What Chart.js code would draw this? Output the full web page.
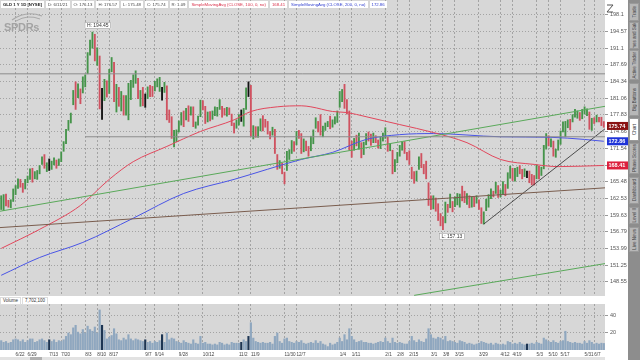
<!DOCTYPE html>
<html><head><meta charset="utf-8">
<script src="https://cdn.jsdelivr.net/npm/chart.js@4.4.1/dist/chart.umd.min.js"></script>
<style>
body{margin:0;width:640px;height:360px;overflow:hidden;background:#fff;font-family:'Liberation Sans',Arial,sans-serif;position:relative}
#hdr{position:absolute;left:1px;top:1px;display:flex;gap:2px;z-index:5}
#hdr span{display:block;height:7px;line-height:7px;font-size:4.3px;background:#fff;padding:0 2px;white-space:nowrap;color:#333}
.tabs{position:absolute;left:628px;top:0;width:12px;height:360px;background:#8d8d8d}
.tab{position:absolute;left:1px;width:10px;background:#b7b7b7;border:1px solid #9a9a9a;box-sizing:border-box;display:flex;align-items:center;justify-content:center;overflow:hidden}
.tab span{writing-mode:vertical-rl;transform:rotate(180deg);font-size:4.5px;color:#444;white-space:nowrap}
</style></head>
<body>
<div id="hdr"></div>
<div style="position:absolute;left:4px;top:10px;color:#a3a3a3;z-index:4">
<svg width="42" height="12" style="display:block"><path d="M8 10 Q22 0 38 6" stroke="#a8a8a8" fill="none" stroke-width="1.2"/><path d="M12 11 Q24 4 36 9" stroke="#a8a8a8" fill="none" stroke-width="1"/></svg>
<div style="font:bold 11px 'Liberation Sans',Arial;margin-top:-1px;letter-spacing:-0.3px">SPDRs</div></div>
<svg style="position:absolute;left:605px;top:2px" width="10" height="12"><path d="M2 3 L8 3 L2 10 L8 10" stroke="#555" fill="none" stroke-width="1"/></svg>
<canvas id="c1" width="628" height="296" style="position:absolute;left:0;top:0"></canvas>
<div style="position:absolute;left:0;top:297px;display:flex;gap:1px;z-index:5">
<span style="font-size:4.5px;line-height:6px;height:6px;padding:0 2px;border:1px solid #ddd;background:#fff;color:#333">Volume</span>
<span id="volLbl" style="font-size:4.5px;line-height:6px;height:6px;padding:0 2px;border:1px solid #ddd;background:#fff;color:#333"></span></div>
<canvas id="c2" width="628" height="62" style="position:absolute;left:0;top:298px"></canvas>
<div style="position:absolute;left:0;top:357px;width:605px;height:3px;background:#e2e2e2"><div style="position:absolute;left:30px;width:12px;height:3px;background:#b0b0b0"></div></div>
<div class="tabs" id="tabs"></div>
<script>
// ---------- categories ----------
const dates = [
'6/12/20','6/15/20','6/16/20','6/17/20','6/18/20','6/19/20','6/22/20','6/23/20','6/24/20','6/25/20','6/26/20','6/29/20','6/30/20',
'7/1/20','7/2/20','7/6/20','7/7/20','7/8/20','7/9/20','7/10/20','7/13/20','7/14/20','7/15/20','7/16/20','7/17/20','7/20/20','7/21/20','7/22/20','7/23/20','7/24/20','7/27/20','7/28/20','7/29/20','7/30/20','7/31/20',
'8/3/20','8/4/20','8/5/20','8/6/20','8/7/20','8/10/20','8/11/20','8/12/20','8/13/20','8/14/20','8/17/20','8/18/20','8/19/20','8/20/20','8/21/20','8/24/20','8/25/20','8/26/20','8/27/20','8/28/20','8/31/20',
'9/1/20','9/2/20','9/3/20','9/4/20','9/8/20','9/9/20','9/10/20','9/11/20','9/14/20','9/15/20','9/16/20','9/17/20','9/18/20','9/21/20','9/22/20','9/23/20','9/24/20','9/25/20','9/28/20','9/29/20','9/30/20',
'10/1/20','10/2/20','10/5/20','10/6/20','10/7/20','10/8/20','10/9/20','10/12/20','10/13/20','10/14/20','10/15/20','10/16/20','10/19/20','10/20/20','10/21/20','10/22/20','10/23/20','10/26/20','10/27/20','10/28/20','10/29/20','10/30/20',
'11/2/20','11/3/20','11/4/20','11/5/20','11/6/20','11/9/20','11/10/20','11/11/20','11/12/20','11/13/20','11/16/20','11/17/20','11/18/20','11/19/20','11/20/20','11/23/20','11/24/20','11/25/20','11/27/20','11/30/20',
'12/1/20','12/2/20','12/3/20','12/4/20','12/7/20','12/8/20','12/9/20','12/10/20','12/11/20','12/14/20','12/15/20','12/16/20','12/17/20','12/18/20','12/21/20','12/22/20','12/23/20','12/24/20','12/28/20','12/29/20','12/30/20','12/31/20',
'1/4/21','1/5/21','1/6/21','1/7/21','1/8/21','1/11/21','1/12/21','1/13/21','1/14/21','1/15/21','1/19/21','1/20/21','1/21/21','1/22/21','1/25/21','1/26/21','1/27/21','1/28/21','1/29/21',
'2/1/21','2/2/21','2/3/21','2/4/21','2/5/21','2/8/21','2/9/21','2/10/21','2/11/21','2/12/21','2/16/21','2/17/21','2/18/21','2/19/21','2/22/21','2/23/21','2/24/21','2/25/21','2/26/21',
'3/1/21','3/2/21','3/3/21','3/4/21','3/5/21','3/8/21','3/9/21','3/10/21','3/11/21','3/12/21','3/15/21','3/16/21','3/17/21','3/18/21','3/19/21','3/22/21','3/23/21','3/24/21','3/25/21','3/26/21','3/29/21','3/30/21','3/31/21',
'4/1/21','4/5/21','4/6/21','4/7/21','4/8/21','4/9/21','4/12/21','4/13/21','4/14/21','4/15/21','4/16/21','4/19/21','4/20/21','4/21/21','4/22/21','4/23/21','4/26/21','4/27/21','4/28/21','4/29/21','4/30/21',
'5/3/21','5/4/21','5/5/21','5/6/21','5/7/21','5/10/21','5/11/21','5/12/21','5/13/21','5/14/21','5/17/21','5/18/21','5/19/21','5/20/21','5/21/21','5/24/21','5/25/21','5/26/21','5/27/21','5/28/21',
'6/1/21','6/2/21','6/3/21','6/4/21','6/7/21','6/8/21','6/9/21','6/10/21','6/11/21'
];
// ---------- series ----------
const close = [
162.2,162.5,162.0,161.6,161.9,163.3,164.4,165.3,165.1,164.6,165.6,166.1,167.4,
166.6,166.6,167.1,168.2,169.6,168.3,168.3,168.5,169.0,169.2,168.6,169.1,170.6,172.3,174.9,176.1,177.5,182.0,181.8,183.5,181.4,184.4,
185.1,189.9,191.3,193.9,190.0,190.2,180.4,180.1,183.8,182.5,186.4,188.3,181.3,182.4,180.7,181.0,178.8,180.5,180.5,184.2,184.2,
185.2,181.6,181.6,181.5,180.8,182.7,182.6,182.4,183.8,184.0,184.0,182.4,183.6,178.2,177.6,174.0,174.2,174.5,176.2,177.9,177.1,
178.7,178.2,178.8,176.0,176.1,177.3,180.2,179.6,176.7,178.2,177.6,177.9,178.5,179.0,180.3,178.6,178.3,178.9,178.3,176.4,175.6,176.3,
177.0,178.3,178.5,182.7,182.3,174.5,175.0,174.0,175.2,176.8,176.3,176.2,175.5,174.0,175.0,171.2,168.4,169.0,167.4,166.7,
170.8,170.8,172.5,171.9,174.5,174.2,171.8,172.5,172.0,171.1,173.5,174.8,176.7,175.5,175.0,175.4,176.0,176.2,175.8,176.2,177.2,178.4,
181.1,182.3,181.0,179.0,172.4,171.3,173.0,172.8,173.4,170.6,172.2,174.1,174.0,173.0,173.2,173.1,172.1,173.5,173.8,
174.1,171.6,171.8,167.2,169.2,170.0,171.8,172.0,171.2,170.3,169.3,166.5,166.4,166.6,169.4,168.5,167.8,166.6,161.6,
161.1,162.6,161.2,159.5,159.0,157.4,161.5,160.8,162.4,161.5,162.3,162.4,163.1,163.0,162.5,162.9,161.5,162.4,162.1,162.7,160.9,158.8,160.0,
161.9,162.6,163.6,163.3,164.9,163.4,163.8,164.9,163.5,166.8,167.6,166.2,167.3,167.6,167.1,167.0,167.0,166.8,166.0,165.9,165.7,
168.0,166.7,167.6,171.9,172.9,172.4,172.8,170.5,170.7,172.5,174.4,175.5,175.9,176.7,175.8,177.7,177.7,178.1,177.6,178.4,
178.4,178.8,175.4,176.9,176.6,177.6,176.9,176.3,175.74
];
const high = [
163.0,163.2,163.3,162.2,162.3,164.2,164.8,166.0,165.9,165.2,165.9,166.5,167.8,
167.9,167.3,167.5,168.4,170.0,170.4,168.9,169.6,169.2,169.8,169.4,169.6,170.9,172.8,175.1,176.8,178.2,182.6,184.3,183.9,182.9,185.3,
185.7,190.2,192.8,194.45,194.0,191.2,189.5,183.0,184.8,184.5,186.8,189.2,188.2,183.8,183.2,182.4,181.6,181.6,184.0,184.6,185.7,
186.5,185.0,182.6,183.2,181.9,183.3,183.6,183.4,184.4,184.9,185.2,183.2,184.2,183.5,178.8,177.5,174.9,175.0,176.7,178.3,178.6,
179.1,179.6,179.4,179.4,176.5,177.6,180.7,180.6,179.5,178.4,178.5,178.6,179.4,179.3,180.8,179.5,179.1,179.3,179.2,178.0,176.3,176.9,
177.9,178.8,179.1,183.1,184.3,183.6,175.8,175.6,175.6,177.1,177.7,177.0,176.6,174.7,175.5,175.1,170.4,169.3,168.8,167.2,
171.0,171.3,173.0,172.8,174.7,174.9,174.3,173.3,172.9,171.9,173.8,175.0,177.3,176.6,177.9,175.7,176.3,176.6,177.6,176.9,177.5,178.6,
182.4,182.8,183.8,180.8,178.6,172.9,173.4,174.0,174.4,172.6,172.7,174.3,174.6,174.2,174.4,173.9,173.1,173.7,174.4,
175.4,173.6,172.4,171.2,169.5,170.8,172.1,172.7,172.8,170.8,171.1,168.1,167.3,167.4,170.0,170.6,168.6,169.2,165.3,
163.0,163.0,162.6,161.6,159.9,159.4,161.9,161.5,163.3,162.0,162.8,163.4,163.3,164.7,163.8,163.4,163.0,162.8,162.8,163.0,162.3,160.9,160.2,
162.4,163.2,164.2,163.8,165.4,164.8,164.0,165.5,165.0,167.1,168.3,167.9,167.9,168.1,168.4,167.7,167.8,167.4,167.4,166.8,166.6,
168.5,168.3,168.1,172.1,174.3,173.9,173.3,172.9,171.4,173.1,174.8,176.5,176.6,176.9,177.0,177.9,178.9,178.6,178.3,178.9,
179.4,179.0,178.4,177.2,177.3,177.8,177.4,177.4,176.57
];
const low = [
160.6,160.4,161.2,161.0,160.9,162.0,163.2,164.3,164.5,163.6,164.2,165.3,165.9,
165.4,166.0,165.9,166.9,168.6,167.9,167.3,167.5,167.7,168.5,167.9,168.4,169.1,171.0,172.4,174.9,176.3,179.8,178.9,181.2,180.0,182.1,
183.3,185.9,189.7,191.1,188.5,187.6,179.0,177.0,180.6,181.3,182.0,186.3,180.4,178.4,179.5,178.6,177.8,177.8,176.9,180.8,183.2,
184.0,181.0,179.5,179.6,179.3,181.0,181.4,181.4,182.5,183.3,182.4,180.7,182.2,176.9,176.4,173.4,171.8,172.8,174.6,175.9,175.6,
176.9,176.6,177.8,175.6,175.3,175.9,177.5,178.8,176.2,176.5,176.7,177.0,177.7,177.6,178.9,177.4,177.8,177.6,177.9,175.8,174.4,175.3,
175.9,176.6,175.7,178.9,181.4,173.8,173.3,173.6,173.6,174.8,174.8,175.5,174.2,173.3,174.0,170.6,167.7,167.9,166.9,165.1,
167.5,169.5,170.6,171.0,172.2,173.4,170.6,170.9,171.1,170.1,171.1,172.4,175.3,174.6,174.0,173.7,174.9,175.6,175.2,175.5,176.1,176.4,
179.3,180.4,179.1,178.0,171.2,169.9,171.2,172.0,171.4,169.8,170.4,172.2,172.9,172.1,172.6,172.6,171.6,171.5,172.9,
173.4,171.0,171.1,166.9,167.3,168.9,170.1,171.2,170.6,169.4,168.6,166.0,165.2,165.6,167.7,168.0,166.9,166.0,161.3,
160.6,160.7,160.3,158.7,157.8,157.13,158.3,160.1,160.9,160.2,161.1,161.4,161.0,162.1,161.8,161.5,160.9,161.0,161.1,161.7,160.6,158.2,158.1,
160.4,161.0,162.5,162.8,163.4,162.7,162.8,163.3,163.0,164.3,166.1,165.7,165.6,166.4,166.9,166.0,166.4,166.2,165.3,164.9,164.9,
166.0,166.0,166.6,167.8,171.4,172.0,171.8,170.1,169.9,171.2,172.3,174.6,173.7,175.4,175.0,176.5,177.4,177.2,176.8,177.1,
178.0,177.7,175.1,174.9,176.2,176.5,176.5,175.8,175.48
];
// volume in millions of shares
const volume = [
11,9,10,8,9,12,13,12,10,12,9,11,13,
13,9,10,12,13,11,9,12,10,12,9,11,10,12,16,20,18,26,29,21,19,24,
20,28,24,22,27,20,47,29,23,13,15,17,25,19,12,11,14,12,18,13,11,
13,12,11,10,12,9,10,8,10,9,11,18,9,20,12,14,13,10,9,8,11,
9,8,7,12,8,7,16,8,9,7,7,6,7,6,9,8,6,7,6,9,8,8,
8,9,12,10,16,32,14,10,9,8,9,8,8,9,7,16,20,10,8,13,
14,10,9,8,10,9,11,8,7,8,9,8,11,8,10,7,6,4,8,6,7,9,
14,10,18,12,25,16,12,9,10,11,9,9,8,8,7,8,9,10,9,
14,10,8,14,9,8,9,8,7,7,10,16,11,9,12,10,9,13,25,
18,14,13,15,14,12,16,10,11,10,9,8,11,10,9,7,8,7,6,7,8,10,9,
8,7,8,6,8,7,6,7,6,10,9,7,8,7,9,7,6,7,7,8,7,
9,8,7,14,12,10,9,11,9,8,10,11,22,10,9,8,9,8,8,7,
10,8,11,9,7,8,7,8,7.7021
];
const markedBars = [20,42,60,67,100,103,219];
// moving averages (day index, value)
const sma100Idx = [0,16,33,45,55,69,83,97,104,115,125,129,138,144,152,166,180,194,208,222,232,251];
const sma100    = [154.0,157.2,161.3,165.9,169.1,171.9,174.7,176.9,178.5,179.4,179.6,179.4,178.5,178.3,177.5,176.0,174.5,172.6,169.5,168.6,168.2,168.41];
const sma200Idx = [0,16,34,55,76,97,125,138,152,166,180,208,229,243,251];
const sma200    = [149.6,152.5,155.0,159.1,163.4,165.9,169.5,170.8,173.2,174.1,174.3,173.7,173.6,173.2,172.86];
// drawn trend lines: [startIndex, startPrice, endIndex, endPrice]
const resistanceLine = [-0.5,185.9,251.5,185.9];
const supportLine    = [35,173.7,251.5,173.7];
const channelTop     = [-0.5,160.3,251.5,179.5];
const channelBottom  = [172,146.4,251.5,151.5];
const longTrendLine  = [-0.5,157.5,251.5,164.4];
const riseTrendLine  = [201,158.1,251.5,175.2];
// ---------- ticks ----------
const yTicks = [198.1,194.57,191.1,187.69,184.34,181.06,177.83,174.66,171.54,168.48,165.48,162.53,159.63,156.79,153.99,151.25,148.55];
const volTicks = [20,40];
const tickLabels = ['6/22','6/29','7/13','7/20','8/3','8/10','8/17','9/7','9/14','9/28','10/12','11/2','11/9','11/30','12/7','1/4','1/11','2/1','2/8','2/15','3/1','3/8','3/15','3/29','4/12','4/19','5/3','5/10','5/17','5/31','6/7'];

// ---------- header ----------
const last = close.length - 1;
const hdrItems = [
 ['GLD 1 Y 1D [NYSE]','#222',true],['D: 6/11/21','#444'],['O: 176.13','#444'],
 ['H: '+high[last].toFixed(2),'#444'],['L: '+low[last].toFixed(2),'#444'],['C: '+close[last].toFixed(2),'#444'],
 ['R: '+(high[last]-low[last]).toFixed(2),'#444'],
 ['SimpleMovingAvg (CLOSE, 100, 0, no)','#d9304a'],[sma100[sma100.length-1].toFixed(2),'#d9304a'],
 ['SimpleMovingAvg (CLOSE, 200, 0, no)','#3340d0'],[sma200[sma200.length-1].toFixed(2),'#3340d0']
];
const hdr = document.getElementById('hdr');
hdrItems.forEach(([t,c,b])=>{const s=document.createElement('span');s.textContent=t;s.style.color=c;if(b)s.style.fontWeight='bold';hdr.appendChild(s);});
document.getElementById('volLbl').textContent = Math.round(volume[last]*1e6).toLocaleString('en-US');

const tabsDef = [['Trade',3,18],['Times and Sales',22,27],['Active Trader',50,30],['Big Buttons',83,33],['Chart',118,23],['Phase Scores',143,31],['Dashboard',177,27],['Level II',207,17],['Live News',227,25]];
const tabs = document.getElementById('tabs');
tabsDef.forEach(([t,top,h])=>{const d=document.createElement('div');d.className='tab';d.style.top=top+'px';d.style.height=h+'px';if(t==='Chart'){d.style.background='#fff';}d.innerHTML='<span>'+t+'</span>';tabs.appendChild(d);});

// ---------- week ticks ----------
function parseD(s){const [m,d,y]=s.split('/').map(Number);return new Date(2000+y,m-1,d);}
const weekTicks = [];
let prevMon = null;
dates.forEach((s,i)=>{
  const d = parseD(s); const mon = new Date(d); mon.setDate(d.getDate()-((d.getDay()+6)%7));
  const t = mon.getTime();
  if (t!==prevMon){ const lab=(mon.getMonth()+1)+'/'+mon.getDate(); if(tickLabels.includes(lab)) weekTicks.push({value:i,label:lab}); prevMon=t; }
});
const tickLabelAt = v => { const w = weekTicks.find(t=>t.value===v); return w?w.label:''; };

const gridColor = 'rgba(120,120,120,0.55)';
const bgPlugin = {id:'bg', beforeDraw(ch){const {ctx,chartArea:a}=ch;ctx.save();ctx.fillStyle='#d7d7d7';ctx.fillRect(a.left,a.top,a.right-a.left,a.bottom-a.top);ctx.restore();}};

const upColor='#45944a', downColor='#cf5260', markColor='#111';
const barColors = close.map((c,i)=> markedBars.includes(i)?markColor:(i>0&&c<close[i-1]?downColor:upColor));
const seg = (a)=>[{x:a[0],y:a[1]},{x:a[2],y:a[3]}];
const lineDs = (data,color,w,extra)=>Object.assign({type:'line',data,borderColor:color,borderWidth:w||1,pointRadius:0,fill:false,order:0},extra||{});

const labelPlugin = {id:'labels', afterDraw(ch){
  const {ctx,chartArea:a,scales:{x,y}}=ch; ctx.save();
  ctx.font='bold 5.5px "Liberation Sans", Arial';
  ctx.textBaseline='middle';
  [[close[last],'#8a1212'],[sma200[sma200.length-1],'#1e33d8'],[sma100[sma100.length-1],'#dc1f3d']].forEach(([v,bg])=>{
    const py=y.getPixelForValue(v); ctx.fillStyle=bg; ctx.fillRect(a.right+2,py-4,21,8);
    ctx.fillStyle='#fff'; ctx.textAlign='left'; ctx.fillText(v.toFixed(2),a.right+3.5,py+0.5);
  });
  // high / low annotations
  ctx.font='5px "Liberation Sans", Arial';
  let hi=0,lo=0; high.forEach((v,i)=>{if(v>high[hi])hi=i;}); low.forEach((v,i)=>{if(v<low[lo])lo=i;});
  const box=(txt,px,py)=>{const w=ctx.measureText(txt).width+5;ctx.fillStyle='#fff';ctx.fillRect(px,py,w,7);ctx.strokeStyle='#999';ctx.lineWidth=0.6;ctx.strokeRect(px+0.5,py+0.5,w-1,6);ctx.fillStyle='#333';ctx.textAlign='left';ctx.fillText(txt,px+2.5,py+3.7);};
  box('H: '+high[hi].toFixed(2), x.getPixelForValue(hi)-8, y.getPixelForValue(high[hi])-10);
  box('L: '+low[lo].toFixed(2), x.getPixelForValue(lo)-4, y.getPixelForValue(low[lo])+3);
  ctx.restore();
}};

const xCommon = {type:'linear',min:-0.5,max:dates.length-0.5,offset:false,
  afterBuildTicks:s=>{s.ticks=weekTicks.map(t=>({value:t.value}));},
  grid:{color:gridColor,drawTicks:false,offset:false,lineWidth:1},border:{display:false,dash:[2,2]}};

new Chart(document.getElementById('c1'),{
  type:'bar',
  data:{datasets:[
    {type:'bar',data:dates.map((d,i)=>({x:i,y:[low[i],high[i]]})),backgroundColor:barColors,barThickness:1.2,grouped:false,order:5},
    lineDs(seg(resistanceLine),'#8c8c8c',1),
    lineDs(seg(supportLine),'#8c8c8c',1),
    lineDs(seg(channelTop),'#5aa95a',1),
    lineDs(seg(channelBottom),'#5aa95a',1),
    lineDs(seg(longTrendLine),'#7a5d4e',1),
    lineDs(seg(riseTrendLine),'#2a2a2a',0.8),
    lineDs(sma100Idx.map((v,j)=>({x:v,y:sma100[j]})),'#e2475c',1,{cubicInterpolationMode:'monotone'}),
    lineDs(sma200Idx.map((v,j)=>({x:v,y:sma200[j]})),'#4a55e6',1,{cubicInterpolationMode:'monotone'})
  ]},
  options:{responsive:false,animation:false,events:[],layout:{padding:0},
    plugins:{legend:{display:false},tooltip:{enabled:false}},
    scales:{
      x:Object.assign({},xCommon,{ticks:{display:false},afterFit:s=>{s.height=0;}}),
      y:{type:'logarithmic',position:'right',min:146.3,max:201.3,
        afterBuildTicks:s=>{s.ticks=yTicks.map(v=>({value:v}));},
        ticks:{callback:v=>String(v),font:{size:5.5,family:'"Liberation Sans", Arial'},color:'#555',padding:2,autoSkip:false},
        grid:{color:gridColor,tickLength:3,tickColor:'#999'},border:{display:false,dash:[1,2]},
        afterFit:s=>{s.width=23;s.paddingTop=0;s.paddingBottom=0;}}
    }},
  plugins:[bgPlugin,labelPlugin]
});

new Chart(document.getElementById('c2'),{
  type:'bar',
  data:{datasets:[{data:volume.map((v,i)=>({x:i,y:v})),backgroundColor:volume.map((v,i)=>markedBars.includes(i)?'#1d3552':'#8fa7bf'),barThickness:1.5}]},
  options:{responsive:false,animation:false,events:[],layout:{padding:{top:6}},
    plugins:{legend:{display:false},tooltip:{enabled:false}},
    scales:{
      x:Object.assign({},xCommon,{ticks:{callback:v=>tickLabelAt(v),autoSkip:false,maxRotation:0,align:'start',font:{size:4.6,family:'"Liberation Sans", Arial'},color:'#444',padding:2},afterFit:s=>{s.height=10;s.paddingLeft=0;s.paddingRight=0;}}),
      y:{position:'right',min:0,max:54,
        afterBuildTicks:s=>{s.ticks=volTicks.map(v=>({value:v}));},
        ticks:{font:{size:5.5,family:'"Liberation Sans", Arial'},color:'#555',padding:2},
        grid:{color:gridColor,tickLength:3,tickColor:'#999'},border:{display:false,dash:[1,2]},
        afterFit:s=>{s.width=23;s.paddingTop=0;s.paddingBottom=0;}}
    }},
  plugins:[bgPlugin]
});
</script>
</body></html>
